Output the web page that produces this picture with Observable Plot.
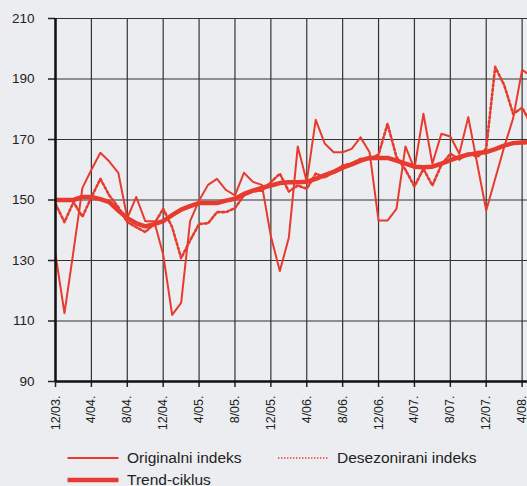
<!DOCTYPE html>
<html>
<head>
<meta charset="utf-8">
<script src="https://cdn.jsdelivr.net/npm/d3@7"></script>
<script src="https://cdn.jsdelivr.net/npm/@observablehq/plot@0.6"></script>
<style>
  html, body { margin: 0; padding: 0; background: #ecedf0; overflow: hidden; }
  #chart svg { display: block; }
  #legend { display: block; }
</style>
</head>
<body>
<div id="chart"></div>
<svg id="legend" width="527" height="46"></svg>
<script>
// Month index 0 = 12/03.
const tickLabels = ["12/03.", "4/04.", "8/04.", "12/04.", "4/05.", "8/05.", "12/05.", "4/06.", "8/06.", "12/06.", "4/07.", "8/07.", "12/07.", "4/08."];
const original = [132, 112.6, 133, 154, 160, 165.6, 162.7, 159, 144, 151, 143, 143, 132, 112, 116, 143, 149.8, 155, 157, 153.3, 151.5, 159, 156, 155, 138, 126.5, 137.5, 167.7, 156, 176.5, 168.7, 165.8, 165.8, 166.9, 170.7, 165.8, 143.2, 143.2, 147.1, 167.7, 160.3, 178.5, 162, 171.9, 171, 165.3, 177.4, 162, 146.5, 157, 167.5, 177, 193, 191];
const deseasonal = [148.7, 142.7, 149.3, 144.5, 150.9, 157, 151.5, 147.6, 142.7, 141, 139.4, 142.1, 147.1, 141, 130.8, 136.6, 142.1, 142.3, 146, 146, 147.3, 151.5, 152.9, 153.1, 155.9, 158.7, 152.8, 154.8, 153.7, 158.7, 157.5, 159.2, 161.4, 162, 163.6, 163.6, 165, 175.2, 164.2, 160, 154.5, 160.3, 154.8, 161.6, 165.3, 163.4, 165.5, 164.2, 167, 194, 188, 178.5, 180.5, 175];
const trend = [150, 150, 150, 151, 151, 150.3, 149.3, 146.5, 144, 142.3, 141.3, 142, 143, 145, 146.8, 148, 149, 149, 149, 149.8, 150.4, 152, 153.1, 154, 154.8, 155.6, 155.9, 155.9, 156, 157, 158.2, 159.3, 160.7, 161.8, 163, 163.9, 163.9, 163.9, 163, 162, 161, 160.8, 161, 162, 163.2, 164.2, 165, 165.5, 165.8, 166.8, 168, 168.8, 169, 169.2];
const yTicks = [90, 110, 130, 150, 170, 190, 210];
const seriesNames = ["Originalni indeks", "Desezonirani indeks", "Trend-ciklus"];

const red = "#e63b2e";
const xTicks = tickLabels.map((_, k) => k * 4);
const toRows = arr => arr.map((v, i) => ({i, v}));

const chart = Plot.plot({
  width: 527,
  height: 440,
  marginLeft: 55,
  marginRight: 0,
  marginTop: 18,
  marginBottom: 59,
  style: {background: "transparent", fontFamily: "'Liberation Sans', Arial, sans-serif", color: "#222"},
  x: {domain: [0, 52.6]},
  y: {domain: [90, 210]},
  marks: [
    Plot.gridX(xTicks, {stroke: "#333", strokeOpacity: 1, strokeWidth: 1.2}),
    Plot.gridY(yTicks.filter(t => t > 90), {stroke: "#333", strokeOpacity: 1, strokeWidth: 1.2}),
    Plot.line(toRows(original), {x: "i", y: "v", stroke: red, strokeWidth: 2, clip: true}),
    Plot.line(toRows(deseasonal), {x: "i", y: "v", stroke: red, strokeWidth: 2.6, strokeDasharray: "2.2,2.4", clip: true}),
    Plot.line(toRows(trend), {x: "i", y: "v", stroke: red, strokeWidth: 4.5, clip: true}),
    Plot.axisY({ticks: yTicks, label: null, tickSize: 7, tickPadding: 14, fontSize: 13.5, stroke: "#222", strokeWidth: 1.5}),
    Plot.axisX({ticks: xTicks, label: null, tickFormat: d => tickLabels[d / 4], tickRotate: -90, tickSize: 6, tickPadding: 8, fontSize: 12.5, stroke: "#222", strokeWidth: 1.5}),
    Plot.ruleX([0], {stroke: "#111", strokeWidth: 2.5}),
    Plot.ruleY([90], {stroke: "#111", strokeWidth: 2.5})
  ]
});
document.getElementById("chart").appendChild(chart);

// Legend
const lg = d3.select("#legend");
const items = [
  {name: seriesNames[0], x: 67.5, y: 18, w: 2, dash: null, tx: 127},
  {name: seriesNames[1], x: 278, y: 18, w: 1.6, dash: "1.4,1.6", tx: 337},
  {name: seriesNames[2], x: 67.5, y: 40, w: 4.5, dash: null, tx: 127}
];
items.forEach(d => {
  lg.append("line").attr("x1", d.x).attr("x2", d.x + 51).attr("y1", d.y).attr("y2", d.y)
    .attr("stroke", red).attr("stroke-width", d.w).attr("stroke-dasharray", d.dash);
  lg.append("text").attr("x", d.tx).attr("y", d.y).attr("dy", "0.35em")
    .attr("font-family", "'Liberation Sans', Arial, sans-serif").attr("font-size", 15.5)
    .attr("fill", "#222").text(d.name);
});
</script>
</body>
</html>
